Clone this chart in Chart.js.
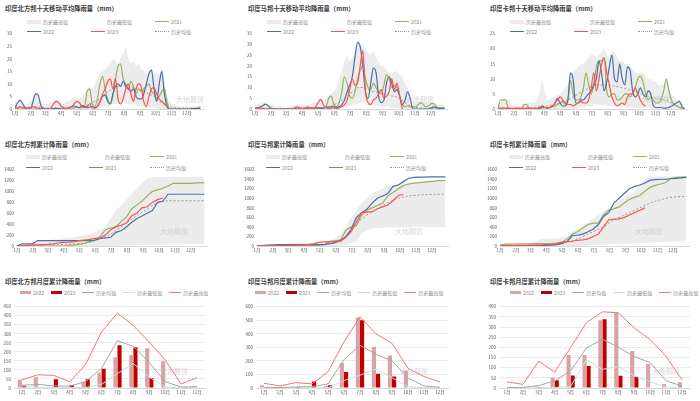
<!DOCTYPE html>
<html>
<head>
<meta charset="utf-8">
<script src="https://cdn.jsdelivr.net/npm/chart.js@4.4.0/dist/chart.umd.min.js"></script>
<style>
  body { margin: 0; width: 700px; height: 401px; background: #fff; position: relative; overflow: hidden;
         font-family: "Noto Sans CJK SC", "Noto Sans", sans-serif; }
  .box { position: absolute; }
  .title { position: absolute; font-size: 6.3px; font-weight: bold; color: #404040; white-space: nowrap; line-height: 1; }
  .lg { position: absolute; font-size: 5px; color: #8c8c8c; white-space: nowrap; line-height: 1;
        display: flex; align-items: center; gap: 2px; }
  .lgrow { position: absolute; font-size: 5px; color: #8c8c8c; white-space: nowrap; line-height: 1;
           display: flex; align-items: center; gap: 7px; }
  .lgrow span.it { display: flex; align-items: center; gap: 2px; }
  .mk { display: inline-block; }
  .wm { position: absolute; font-size: 7px; font-weight: bold; color: rgba(190,190,190,0.45); white-space: nowrap; pointer-events: none; }
</style>
</head>
<body>
<script>
// 月份
const MONTHS = ['1月','2月','3月','4月','5月','6月','7月','8月','9月','10月','11月','12月'];
const MONTH_START = [0,31,59,90,120,151,181,212,243,273,304,334];

// ---------- 十天移动平均降雨量 (每5天取一个点) ----------
const upMax = [3,3,4,3,2,2,3,5,7,6, 3,2,2,2,3,3,4,3,2,2, 3,3,4,5,4,4,5,6,8,9, 8,10,12,14,15,16,17,18,20,19,
  18,20,22,25,20,18,19,17,18,16, 15,14,15,16,15,14,14,16,12,5, 3,2,2,1,1,1,1,1,1,1, 1,1,1];
const upMin = [0,0,0,0,0,0,0,0,0,0, 0,0,0,0,0,0,0,0,0,0, 0,0,0,0,0,0,0,0,0,0, 0,0,0,0.5,0.5,1,1,1.5,2,2,
  2,2.5,3,2,2,1.5,2,1.5,1,1, 1,0.5,0.5,0.5,0.5,0.3,0,0,0,0, 0,0,0,0,0,0,0,0,0,0, 0,0,0];
const upAvg = [0.8,1,1,0.8,0.6,0.5,0.6,0.8,1,0.8, 0.6,0.5,0.4,0.4,0.5,0.5,0.5,0.4,0.3,0.3, 0.3,0.4,0.5,0.6,0.6,0.7,0.8,1,1.5,2,
  2.5,3,3.5,4,5,6,7,7.5,8,8.5, 9,9,9.5,9.5,9,9,8.5,8,8,7.5, 7,6.5,6,5.5,5,4,3,2.5,2,1.5, 1,0.7,0.5,0.4,0.3,0.3,0.3,0.3,0.3,0.3, 0.3,0.3,0.3];
const up2021 = [0.5,0.3,0,0,0,0,0,0,0,0, 0,0,0,0,0,0,0,0,0,0, 0,0,0,0.5,1,0.5,0.5,1,7,8, 2,1,4,10,13,8,4,2,5,12,
  17,18,12,10,8,11,9,6,8,7, 8,9,10,7,6,4,5,7,8,3, 0,0,0,0,0,0,0,0,0,0, 0.3,0.5,1];
const up2022 = [0.5,2.5,3.5,2,0.5,0,0,3,6,5.5, 1.5,0.2,0,0,0,0.2,0.3,0.2,0,0, 0,0.5,1,1.2,0.8,0.5,1.5,1,0.5,0.8, 1,0.5,1,3,5,5.5,3,2,6,9,
  10,9,11,9,8,7,8,5,4,4, 6,10,14,15.5,8,3,10,15,6,1, 0,0,0,0,0,0,0,0,0,0.2, 0.2,0.2,0.2];
const up2023 = [0,0.5,0.8,0.5,0.3,0.5,0.8,1,0.5,0.3, 0.2,0,0,0,0.5,2,3,2.5,1,0.5, 0.3,0.5,1,2,3,2.5,1,0.5,1,2, 0.5,0.3,1,3,6,8,11,12,8,12,
  4,2,4,8,10,6,3,8,10,9, 3,1,5,8,8.5,6,4,3,2,1];

const mhMax = [2,2,3,3,3,2,2,2,1,1, 1,1,1,1,1,2,2,2,2,2, 2,2,3,3,3,5,4,5,6,7, 8,10,14,18,22,25,22,24,26,31,
  30,30,28,26,25,27,24,22,20,20, 18,17,16,18,17,16,15,12,10,7, 4,3,3,3,3,3,3,3,3,2, 2,2,2];
const mhMin = [0,0,0,0,0,0,0,0,0,0, 0,0,0,0,0,0,0,0,0,0, 0,0,0,0,0,0,0,0,0,0, 0,0,0,0.5,1,1,1.5,2,2,2.5,
  3,3,2.5,2,2,2,1.5,1.5,1,1, 1,1,0.5,0.5,0.5,0.3,0,0,0,0, 0,0,0,0,0,0,0,0,0,0, 0,0,0];
const mhAvg = [0.3,0.3,0.3,0.3,0.3,0.3,0.2,0.2,0.2,0.2, 0.2,0.2,0.2,0.2,0.2,0.2,0.3,0.3,0.3,0.3, 0.3,0.3,0.4,0.5,0.5,0.6,0.7,0.8,1,1.5,
  2,2.5,3,4,5,6,7,8,9,10, 10,10,9.5,9,8.5,8,8,7.5,7,7, 7,6.5,6,6,5.5,5,4,3,2,1.5, 1,0.8,0.6,0.5,0.4,0.3,0.3,0.3,0.3,0.3, 0.3,0.3,0.3];
const mh2021 = [0,0,0,0,0,0,0,0,0,0, 0,0,0,0,0,0,0,0,0,0.3, 0.3,0.5,0.5,0.3,0.5,0.5,0.5,1,5,6, 2,1,3,8,15,12,6,5,8,14,
  18,20,14,10,9,12,10,8,7,11, 16,14,10,11,10,6,2,1,1.5,1, 1,1,2,3,2,1,1.5,2.5,2.5,1, 0.5,0.5,0.5];
const mh2022 = [0.5,0.5,1,1.5,2.3,1.5,0.5,0,0,0, 0,0,0,0,0,0,0,0,0,0, 0,0,0.3,0.5,0.5,0.3,0.5,0.8,1,1, 1,0.8,1,2,4,8,11,15,24,31,
  29,20,8,5,12,19,17,6,3,4, 12,15,12,8,9,6,2,4,8,5, 0,0,0,0,0,0,0,0.5,1,0.5, 0.3,0.3,0.3];
const mh2023 = [0,0.3,0.5,0.3,0,0,0,0,0,0, 0,0,0,0,0,0.5,1,0.5,0.3,0.5, 1,0.5,0.3,1,3,4.5,2,0.5,0.3,0.5, 0.5,0.3,0.5,1,2,4,9,14,11,12,
  20,27,8,3,2,4,5,7,9,5, 6,8,14,9,12,6,0];

const kaMax = [1,2,3,3,3,2,1,1,1,1, 2,2,2,2,2,3,5,10,6,3, 3,4,4,5,5,6,7,8,12,12, 13,14,15,15,16,17,18,18,17,18,
  19,20,18,17,19,19,17,16,16,15, 15,14,13,12,12,12,12,11,10,10, 9,9,8,8,8,10,7,5,4,3, 3,2,1];
const kaMin = [0,0,0,0,0,0,0,0,0,0, 0,0,0,0,0,0,0,0,0,0, 0,0,0,0,0,0,0,0,0,0, 0,0.3,0.5,0.5,1,1,1,1.5,1.5,1.5,
  1.5,1.5,1,1,1,1,1,1,1,0.5, 0.5,0.5,0.5,0.5,0.3,0.3,0.3,0.3,0.2,0.2, 0,0,0,0,0,0,0,0,0,0, 0,0,0];
const kaAvg = [0.2,0.2,0.2,0.2,0.2,0.2,0.2,0.2,0.2,0.3, 0.3,0.3,0.3,0.4,0.5,0.6,0.8,1,1,1, 1.2,1.4,1.6,1.8,2,2.2,2.5,3,3.5,4,
  4.5,5,5.5,6,6.5,7,7.5,8,8,8, 8,8,8,8,7.8,7.5,7.5,7.2,7,6.8, 6.5,6.2,6,5.8,5.5,5,4.8,4.5,4.2,4, 3.8,3.6,3.4,3.2,3,2.8,2.5,2,1.5,1, 0.8,0.5,0.3];
const ka2021 = [0.3,3,3,3,0.3,0,0,0,0,0, 1.5,1.5,0.3,0,0,0,0,0.3,0.5,0.5, 0.5,0.8,1,1.5,2,2.5,1.5,3,9.5,5, 3,3,4,7,12,8,5,8,14,16,
  16,17,6,4,5,5,3,3,4,5, 5,4,5,7,10,11,9,5,3,4, 3,2,2,3,6,10,6,3,1.5,1, 0.5,0.3,0];
const ka2022 = [0,0,0,0,0,0,0,0,0,0, 0,0,0,0,0,0,0.3,1,0.5,0.3, 0.5,1,2,3.5,2,1,1,3,12,10, 2,2,3,3,4,5,6,8,10,16,
  12,6,9,14,18,10,9,15,10,8, 14,13,6,4,5,7,5,4,6,5, 1,0.5,0.5,0.5,0.3,0.3,0.5,1,1.5,2, 2.5,1,0];
const ka2023 = [0.3,0.3,0.3,0.3,0.3,0.2,0.2,0.3,0.3,0.2, 0.2,0.3,0.3,0.2,0.2,0.3,0.4,0.5,0.5,0.3, 0.5,1,2,3,4,3,2,1.5,1.5,1,
  1.5,2,2.5,2,2,3,7,12,6,10, 15,17,12,8,4,2,1,1.5,2,1.5, 4,5,5,7,5,3,1.5,1];

// ---------- 累计降雨量 (每10天取一个点) ----------
const upcMax = [0,20,40,60,80,100,110,120,130,140, 150,160,180,200,220,250,300,350,500,650, 750,850,950,1050,1150,1230,1260,1270,1270,1270, 1270,1270,1270,1270,1270,1270,1270];
const upcMin = [0,0,0,0,0,0,0,0,0,0, 0,0,0,0,0,0,0,0,2,5, 8,10,12,14,16,18,20,22,24,25, 26,27,28,29,30,30,30];
const upcAvg = [0,3,6,10,13,16,20,23,26,30, 35,40,45,55,70,100,130,170,220,280, 350,420,490,560,620,680,740,790,820,830, 830,830,830,830,830,830,830];
const upc2021 = [0,0,0,0,0,0,0,0,0,0, 10,20,30,50,80,100,180,300,330,350, 450,530,680,750,820,920,1000,1030,1060,1100, 1150,1150,1150,1150,1155,1160,1160];
const upc2022 = [0,40,40,45,100,100,100,100,100,100, 100,100,100,100,100,110,140,150,160,250, 280,350,430,500,550,600,650,800,820,950, 950,950,950,950,950,950,950];
const upc2023 = [0,5,10,20,20,25,30,40,60,65, 70,80,100,110,120,140,150,200,300,350, 380,420,550,600,700,720,800,850,880];

const mhcMax = [0,10,20,30,35,40,45,50,55,60, 65,70,75,80,110,150,250,400,600,750, 900,1000,1100,1150,1200,1250,1280,1300,1320,1330, 1340,1345,1350,1350,1350,1350,1350];
const mhcMin = [0,0,0,0,0,0,0,0,0,0, 0,0,0,0,0,0,10,20,50,100, 250,330,370,380,385,390,390,392,394,395, 396,397,398,399,400,400,400];
const mhcAvg = [0,2,4,6,8,10,12,14,16,18, 20,25,30,40,55,80,130,200,320,450, 560,650,720,780,850,910,960,1000,1030,1050, 1060,1070,1075,1080,1085,1088,1090];
const mhc2021 = [0,0,0,0,5,5,5,5,5,5, 10,15,20,30,100,110,130,330,400,430, 650,750,800,850,900,1050,1120,1200,1270,1300, 1320,1330,1340,1350,1360,1370,1370];
const mhc2022 = [0,10,20,25,30,30,30,30,30,30, 30,30,30,35,50,70,120,200,350,600, 700,770,900,1000,1050,1100,1250,1280,1350,1420, 1440,1445,1445,1450,1450,1450,1450];
const mhc2023 = [0,0,2,5,8,10,12,15,20,25, 35,50,80,85,90,95,100,180,300,500, 700,710,720,780,820,860,950,1060,1080];

const kacMax = [30,40,45,50,55,60,80,100,150,150, 150,150,180,220,300,360,430,500,580,650, 720,800,870,950,1020,1080,1140,1300,1400,1460, 1460,1460,1460,1460,1460,1460,1460];
const kacMin = [0,0,0,0,0,0,0,0,0,0, 0,0,0,0,0,0,5,10,15,20, 25,30,35,40,45,50,55,60,65,70, 75,80,85,90,95,100,100];
const kacAvg = [0,3,6,9,12,15,18,22,26,30, 40,50,65,85,110,150,200,250,300,350, 400,480,550,600,650,700,750,800,850,900, 940,970,1000,1020,1030,1035,1040];
const kac2021 = [20,40,40,40,45,45,45,50,50,50, 50,60,80,150,250,300,380,450,480,480, 650,750,780,820,900,980,1020,1060,1150,1230, 1270,1300,1330,1420,1440,1445,1450];
const kac2022 = [0,5,10,10,10,10,10,10,10,15, 20,30,50,100,220,230,250,300,350,450, 620,700,900,1000,1100,1200,1250,1280,1320,1380, 1390,1400,1400,1410,1420,1430,1440];
const kac2023 = [0,5,10,10,15,15,20,20,25,30, 35,50,80,90,100,120,130,150,200,250, 400,550,560,570,600,650,700,750,800];

// ---------- 月度累计降雨量 ----------
const upm2022 = [45,60,0,0,35,85,170,183,220,148,0,0];
const upm2023 = [13,0,48,17,48,107,237,225,55,null,null,null];
const upmAvg = [15,20,12,10,35,110,262,230,140,35,5,8];
const upmMin = [5,5,2,2,3,20,80,135,60,5,1,2];
const upmMax = [45,73,70,35,130,310,415,345,255,155,22,57];

const mhm2022 = [20,3,5,3,15,185,520,305,240,130,0,0];
const mhm2023 = [0,0,8,48,20,118,500,105,85,null,null,null];
const mhmAvg = [5,3,8,10,30,210,315,250,200,75,15,5];
const mhmMin = [0,0,0,0,2,55,95,140,75,10,2,0];
const mhmMax = [35,15,40,30,120,340,525,400,330,145,85,45];

const kam2022 = [3,3,8,52,162,162,333,370,182,118,20,28];
const kam2023 = [2,2,5,38,62,108,338,60,55,null,null,null];
const kamAvg = [3,3,12,35,85,197,240,200,155,125,35,10];
const kamMin = [0,0,0,2,8,140,92,105,60,30,5,0];
const kamMax = [30,18,132,78,200,322,375,370,295,238,155,40];

// 颜色
const GREEN = '#97b25e';
const BLUE = '#4e6fa6';
const RED = '#ff5050';
const AVG = '#9a9a9a';
const FILL = '#ececec';

Chart.defaults.font.family = '"Noto Sans CJK SC", "Noto Sans", sans-serif';
Chart.defaults.font.size = 4.5;
Chart.defaults.color = '#595959';
Chart.defaults.animation = false;

function addDiv(cls, x, y, text) {
    const d = document.createElement('div');
    d.className = cls;
    d.style.left = x + 'px';
    d.style.top = y + 'px';
    if (text) d.textContent = text;
    document.body.appendChild(d);
    return d;
}

function marker(type, color) {
    const m = document.createElement('span');
    m.className = 'mk';
    if (type === 'box') m.style.cssText = 'width:14px;height:4px;background:' + color;
    else if (type === 'line') m.style.cssText = 'width:14px;height:1.2px;background:' + color;
    else if (type === 'dash') m.style.cssText = 'width:14px;height:0;border-top:1px dotted ' + color;
    else if (type === 'bar') m.style.cssText = 'width:11px;height:3px;background:' + color;
    else if (type === 'sline') m.style.cssText = 'width:12px;height:1px;background:' + color;
    return m;
}

// 两行三列的图例（上两排图）
function legendGrid(left, cols, rows) {
    const items = [
        ['box', FILL, '历史最高值'], ['box', '#ffffff', '历史最低值'], ['line', GREEN, '2021'],
        ['line', BLUE, '2022'], ['line', RED, '2023'], ['dash', AVG, '历史均值']
    ];
    items.forEach((it, i) => {
        const d = addDiv('lg', left + cols[i % 3], rows[Math.floor(i / 3)] - 3);
        d.appendChild(marker(it[0], it[1]));
        const s = document.createElement('span');
        s.textContent = it[2];
        d.appendChild(s);
    });
}

// 单行图例（月度图）
function legendRow(x, y) {
    const items = [
        ['bar', '#d9a3a3', '2022'], ['bar', '#c00000', '2023'], ['sline', '#a6a6a6', '历史均值'],
        ['sline', '#c5e0ec', '历史最低值'], ['sline', '#ff7070', '历史最高值']
    ];
    const d = addDiv('lgrow', x, y - 3);
    items.forEach(it => {
        const s = document.createElement('span');
        s.className = 'it';
        s.appendChild(marker(it[0], it[1]));
        const t = document.createElement('span');
        t.textContent = it[2];
        s.appendChild(t);
        d.appendChild(s);
    });
}

// 画布位置：PL/PR/PT/PB 为绘图区边界
function makeCanvas(b, yw) {
    const padT = 4, padR = 4, xh = 10;
    const wrap = addDiv('box', b.PL - yw, b.PT - padT);
    const w = b.PR - b.PL + yw + padR, h = b.PB - b.PT + padT + xh;
    wrap.style.width = w + 'px';
    wrap.style.height = h + 'px';
    const cv = document.createElement('canvas');
    cv.width = w; cv.height = h;
    cv.style.width = w + 'px'; cv.style.height = h + 'px';
    wrap.appendChild(cv);
    return { cv, padT, padR, xh };
}

function pts(arr, step) {
    return arr.map((v, i) => ({ x: i * step, y: v }));
}

function lineDs(label, arr, step, color, extra) {
    return Object.assign({
        label: label, data: pts(arr, step), borderColor: color, borderWidth: 1.2,
        pointRadius: 0, fill: false
    }, extra || {});
}

const plainNum = v => String(v);

// 十天移动平均 / 累计 图
function dailyChart(b, yw, ymax, ystep, step, s, smooth) {
    const c = makeCanvas(b, yw);
    const t = smooth ? { cubicInterpolationMode: 'monotone' } : {};
    new Chart(c.cv, {
        type: 'line',
        data: {
            datasets: [
                lineDs('2023', s.y23, step, RED, t),
                lineDs('2022', s.y22, step, BLUE, t),
                lineDs('2021', s.y21, step, GREEN, t),
                lineDs('历史均值', s.avg, step, AVG, { borderDash: [2, 2], borderWidth: 1 }),
                lineDs('历史最低值', s.min, step, 'rgba(0,0,0,0)', { borderWidth: 0 }),
                lineDs('历史最高值', s.max, step, 'rgba(0,0,0,0)', { borderWidth: 0, fill: { target: 4 }, backgroundColor: FILL })
            ]
        },
        options: {
            responsive: false,
            layout: { padding: { top: c.padT, right: c.padR, left: 0, bottom: 0 } },
            plugins: { legend: { display: false }, tooltip: { enabled: false } },
            scales: {
                x: {
                    type: 'linear', min: 0, max: 365,
                    afterBuildTicks: sc => { sc.ticks = MONTH_START.map(v => ({ value: v })); },
                    afterFit: sc => { sc.height = c.xh; },
                    ticks: { autoSkip: false, maxRotation: 0, padding: 2, callback: (v, i) => MONTHS[i] },
                    grid: { display: false, drawTicks: false },
                    border: { display: true, color: '#d9d9d9', width: 1 }
                },
                y: {
                    min: 0, max: ymax,
                    afterFit: sc => { sc.width = yw; },
                    ticks: { stepSize: ystep, padding: 3, callback: plainNum },
                    grid: { display: false, drawTicks: false },
                    border: { display: false }
                }
            }
        }
    });
}

// 月度累计图
function monthChart(b, yw, ymax, ystep, s) {
    const c = makeCanvas(b, yw);
    const ln = (label, data, color) => ({
        type: 'line', label: label, data: data, borderColor: color, borderWidth: 1,
        pointRadius: 0, order: 1
    });
    new Chart(c.cv, {
        type: 'bar',
        data: {
            labels: MONTHS,
            datasets: [
                { label: '2022', data: s.y22, backgroundColor: '#d9a3a3', order: 2, barPercentage: 1, categoryPercentage: 0.52 },
                { label: '2023', data: s.y23, backgroundColor: '#c00000', order: 2, barPercentage: 1, categoryPercentage: 0.52 },
                ln('历史均值', s.avg, '#a6a6a6'),
                ln('历史最低值', s.min, '#c5e0ec'),
                ln('历史最高值', s.max, '#ff7070')
            ]
        },
        options: {
            responsive: false,
            layout: { padding: { top: c.padT, right: c.padR, left: 0, bottom: 0 } },
            plugins: { legend: { display: false }, tooltip: { enabled: false } },
            scales: {
                x: {
                    afterFit: sc => { sc.height = c.xh; },
                    ticks: { autoSkip: false, maxRotation: 0, padding: 2 },
                    grid: { display: false, drawTicks: false },
                    border: { display: true, color: '#d9d9d9', width: 1 }
                },
                y: {
                    min: 0, max: ymax,
                    afterFit: sc => { sc.width = yw; },
                    ticks: { stepSize: ystep, padding: 3, callback: plainNum },
                    grid: { color: '#e6e6e6', lineWidth: 0.8, drawTicks: false },
                    border: { display: false }
                }
            }
        }
    });
}

// ----- 第一排 -----
addDiv('title', 5, 6, '印度北方邦十天移动平均降雨量（mm）');
addDiv('title', 248, 6, '印度马邦十天移动平均降雨量（mm）');
addDiv('title', 490, 6, '印度卡邦十天移动平均降雨量（mm）');

const r1 = [{ PL: 15, PR: 203 }, { PL: 255, PR: 447 }, { PL: 498, PR: 687 }].map(o => Object.assign(o, { PT: 32, PB: 109 }));
r1.forEach(b => legendGrid(b.PL, [12, 76, 140], [22, 32]));
dailyChart(r1[0], 15, 30, 5, 5, { max: upMax, min: upMin, avg: upAvg, y21: up2021, y22: up2022, y23: up2023 }, true);
dailyChart(r1[1], 15, 35, 5, 5, { max: mhMax, min: mhMin, avg: mhAvg, y21: mh2021, y22: mh2022, y23: mh2023 }, true);
dailyChart(r1[2], 15, 25, 5, 5, { max: kaMax, min: kaMin, avg: kaAvg, y21: ka2021, y22: ka2022, y23: ka2023 }, true);

// ----- 第二排 -----
addDiv('title', 5, 142, '印度北方邦累计降雨量（mm）');
addDiv('title', 248, 142, '印度马邦累计降雨量（mm）');
addDiv('title', 490, 142, '印度卡邦累计降雨量（mm）');

const r2 = [{ PL: 17, PR: 207 }, { PL: 257, PR: 448 }, { PL: 500, PR: 689 }].map(o => Object.assign(o, { PT: 168, PB: 246 }));
r2.forEach(b => legendGrid(b.PL, [9, 72, 133], [157, 168]));
dailyChart(r2[0], 17, 1400, 200, 10, { max: upcMax, min: upcMin, avg: upcAvg, y21: upc2021, y22: upc2022, y23: upc2023 }, false);
dailyChart(r2[1], 17, 1600, 200, 10, { max: mhcMax, min: mhcMin, avg: mhcAvg, y21: mhc2021, y22: mhc2022, y23: mhc2023 }, false);
dailyChart(r2[2], 17, 1600, 200, 10, { max: kacMax, min: kacMin, avg: kacAvg, y21: kac2021, y22: kac2022, y23: kac2023 }, false);

// ----- 第三排 -----
addDiv('title', 5, 279, '印度北方邦月度累计降雨量（mm）');
addDiv('title', 248, 279, '印度马邦月度累计降雨量（mm）');
addDiv('title', 490, 279, '印度卡邦月度累计降雨量（mm）');

legendRow(20, 293);
legendRow(255, 293);
legendRow(510, 293);
const r3 = [{ PL: 14, PR: 205 }, { PL: 256, PR: 448 }, { PL: 499, PR: 690 }].map(o => Object.assign(o, { PT: 305, PB: 388 }));
monthChart(r3[0], 14, 450, 50, { y22: upm2022, y23: upm2023, avg: upmAvg, min: upmMin, max: upmMax });
monthChart(r3[1], 16, 600, 100, { y22: mhm2022, y23: mhm2023, avg: mhmAvg, min: mhmMin, max: mhmMax });
monthChart(r3[2], 16, 400, 50, { y22: kam2022, y23: kam2023, avg: kamAvg, min: kamMin, max: kamMax });

// 水印
[[176, 94], [406, 94], [642, 94], [160, 226], [395, 226], [635, 226], [160, 366], [400, 366], [652, 366]].forEach(p => {
    addDiv('wm', p[0], p[1], '大地期货');
});
</script>
</body>
</html>
